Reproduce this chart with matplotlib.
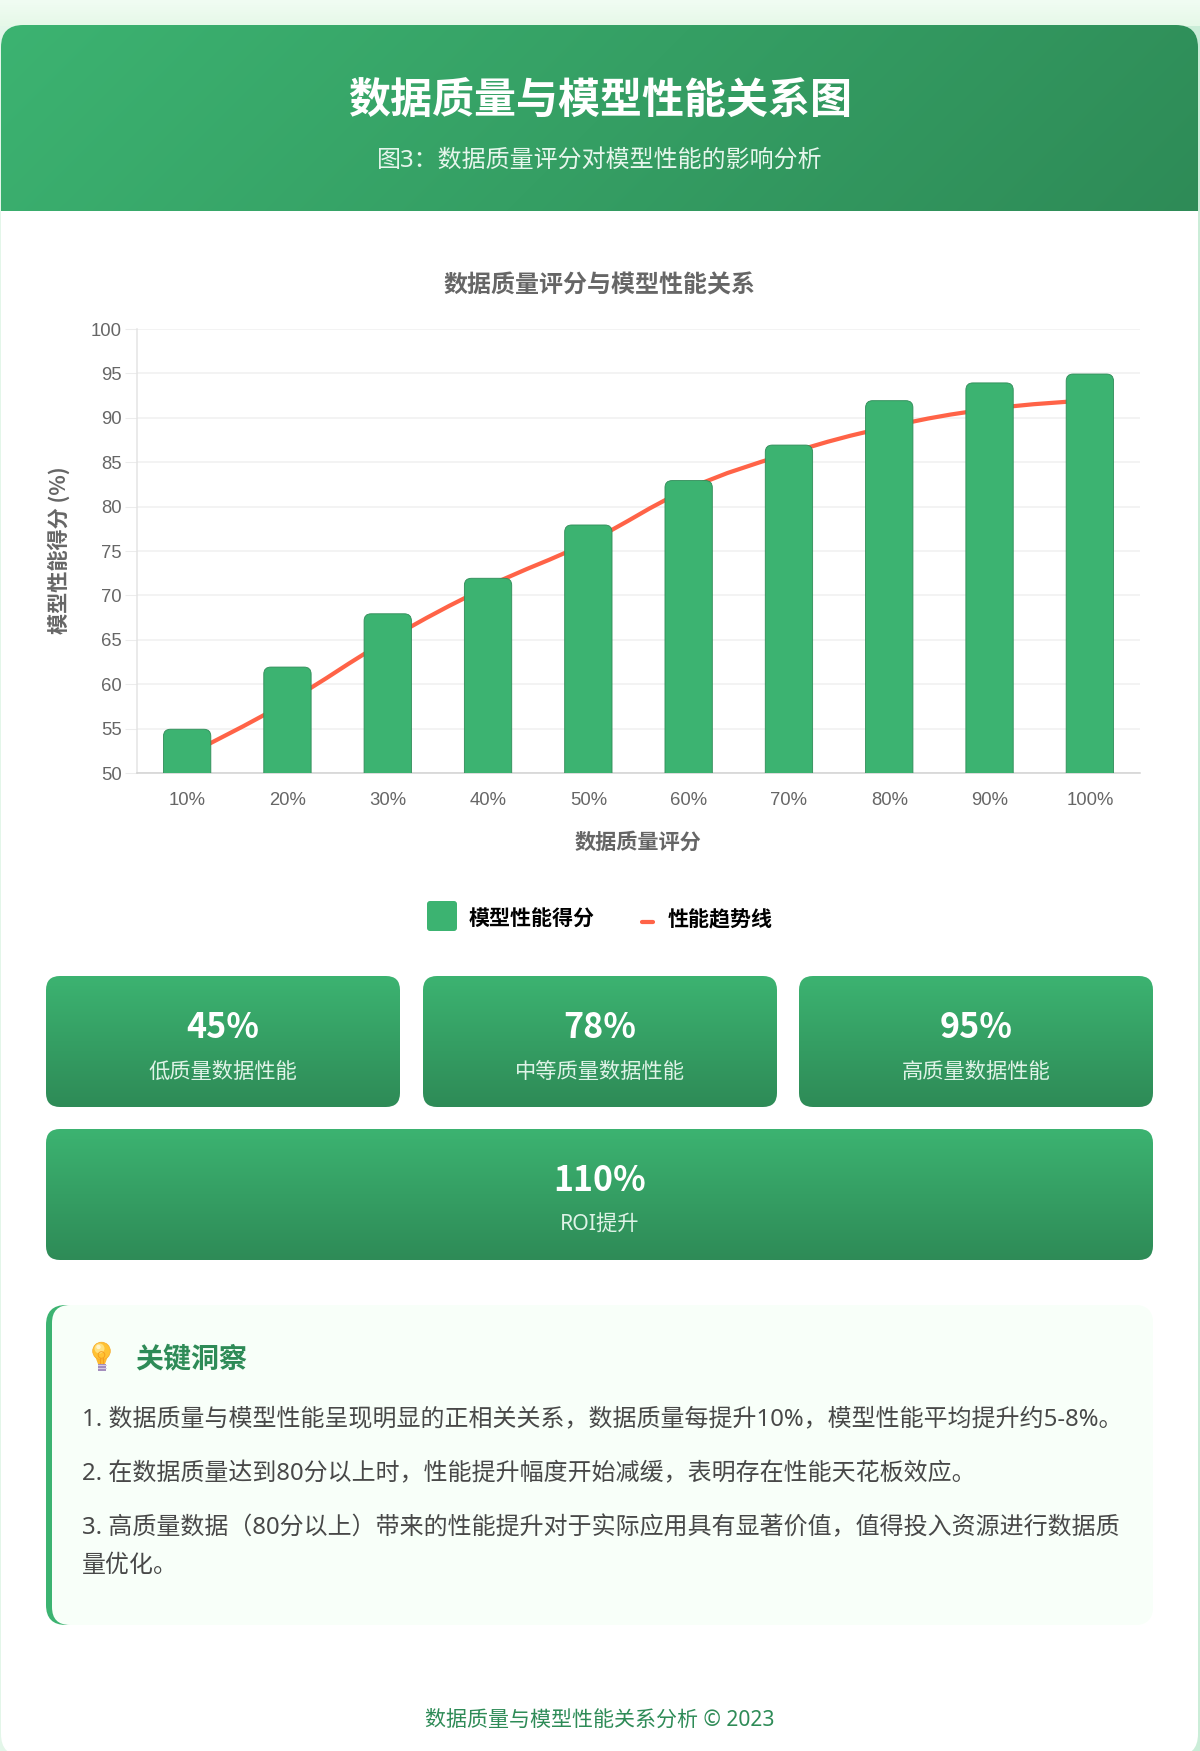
import numpy as np
import matplotlib
matplotlib.use("Agg")
import matplotlib.pyplot as plt
from matplotlib.patches import FancyBboxPatch, Rectangle, Circle, Polygon
from matplotlib.path import Path
from matplotlib.patches import PathPatch

plt.rcParams['font.family'] = ['Noto Sans', 'Noto Sans CJK SC', 'DejaVu Sans']

# data
quality_labels = ['10%', '20%', '30%', '40%', '50%', '60%', '70%', '80%', '90%', '100%']
model_scores = [55, 62, 68, 72, 78, 83, 87, 92, 94, 95]
trend_values = [52, 58, 65, 71, 76, 82, 86, 89, 91, 92]
y_ticks = [50, 55, 60, 65, 70, 75, 80, 85, 90, 95, 100]
stat_values = ['45%', '78%', '95%', '110%']
stat_labels = ['低质量数据性能', '中等质量数据性能', '高质量数据性能', 'ROI提升']
insights = [
    '1. 数据质量与模型性能呈现明显的正相关关系，数据质量每提升10%，模型性能平均提升约5-8%。',
    '2. 在数据质量达到80分以上时，性能提升幅度开始减缓，表明存在性能天花板效应。',
    '3. 高质量数据（80分以上）带来的性能提升对于实际应用具有显著价值，值得投入资源进行数据质',
    '量优化。',
]

W, H = 1200, 1751
GREEN = '#3cb371'
DARK = '#2e8b57'
ORANGE = '#ff6347'
CJK = ['Noto Sans', 'Noto Sans CJK SC', 'DejaVu Sans']
CJK_BOLD = ['Noto Sans CJK SC', 'DejaVu Sans']
ARIAL = ['Liberation Sans', 'Noto Sans CJK SC']


def px(size):
    return size * 0.72


def hexrgb(c):
    return np.array(matplotlib.colors.to_rgb(c))


def gradient(ax, x0, y0, x1, y1, c0, c1, angle=180, clip=None, z=1):
    # css style linear gradient, angle in degrees
    w, h = x1 - x0, y1 - y0
    a = np.deg2rad(angle)
    sx, sy = np.sin(a), -np.cos(a)
    L = abs(w * sx) + abs(h * sy)
    nx, ny = int(max(w, 2)), int(max(h, 2))
    xx, yy = np.meshgrid(np.linspace(-w / 2, w / 2, nx), np.linspace(-h / 2, h / 2, ny))
    t = np.clip((xx * sx + yy * sy) / L + 0.5, 0, 1)[..., None]
    img = hexrgb(c0) * (1 - t) + hexrgb(c1) * t
    im = ax.imshow(img, extent=(x0, x1, y1, y0), aspect='auto', zorder=z, interpolation='bilinear')
    if clip is not None:
        im.set_clip_path(clip)
    return im


def round_box(ax, x0, y0, x1, y1, r, **kw):
    p = FancyBboxPatch((x0, y0), x1 - x0, y1 - y0, boxstyle=f'round,pad=0,rounding_size={r}',
                       linewidth=0, **kw)
    ax.add_patch(p)
    return p


fig = plt.figure(figsize=(W / 100, H / 100), dpi=100)
bg = fig.add_axes([0, 0, 1, 1])
bg.set_xlim(0, W)
bg.set_ylim(H, 0)
bg.axis('off')

# page background and card
gradient(bg, 0, 25, W, H, '#e4f7ea', '#cbedd8', angle=90, z=0)
gradient(bg, 0, 0, W, 26, '#f1fdf3', '#e6f8e8', angle=180, z=0)
bg.set_xlim(0, W)
bg.set_ylim(H, 0)
card = round_box(bg, 1, 25, 1198, H + 5, 22, facecolor='white', zorder=1)

# header
head_clip = round_box(bg, 1, 25, 1198, 260, 22, facecolor='none', zorder=2)
im = gradient(bg, 1, 25, 1198, 211, GREEN, DARK, angle=135, z=2)
im.set_clip_path(head_clip)
bg.text(600, 101.5, '数据质量与模型性能关系图', color='white', fontsize=px(42), fontweight='bold',
        ha='center', va='center', family=CJK_BOLD, zorder=5)
bg.text(600, 160.5, '图3：数据质量评分对模型性能的影响分析', color='#e6f6ec', fontsize=px(24),
        ha='center', va='center', family=CJK, zorder=5)

# chart
ax_l, ax_r, ax_t, ax_b = 137, 1140, 329, 773
ax = fig.add_axes([ax_l / W, 1 - ax_b / H, (ax_r - ax_l) / W, (ax_b - ax_t) / H], zorder=3)
ax.set_xlim(-0.5, 9.5)
ax.set_ylim(50, 100)
ax.set_yticks(y_ticks)
ax.set_xticks(range(len(quality_labels)))
ax.set_xticklabels(quality_labels)
ax.tick_params(axis='y', length=8.5, width=0.75, color='#ececec', labelcolor='#666666',
               labelsize=px(18.5), pad=2.5)
ax.tick_params(axis='x', length=0, labelcolor='#666666', labelsize=px(18.5), pad=13.5)
for lab in ax.get_xticklabels() + ax.get_yticklabels():
    lab.set_family(ARIAL)
ax.grid(axis='y', color='#f0f0f0', linewidth=1.1)
ax.set_axisbelow(True)
for s in ['top', 'right']:
    ax.spines[s].set_visible(False)
ax.spines['left'].set_color('#e4e4e4')
ax.spines['left'].set_linewidth(1.1)
ax.spines['bottom'].set_color('#d2d2d2')
ax.spines['bottom'].set_linewidth(1.1)

# trend line, bezier like chart.js tension 0.4
xs = np.arange(len(trend_values), dtype=float)
ys = np.array(trend_values, dtype=float)
verts = [(xs[0], ys[0])]
codes = [Path.MOVETO]
for i in range(len(xs) - 1):
    prev_i, next_i = max(i - 1, 0), min(i + 2, len(xs) - 1)
    verts.append((xs[i] + (xs[i + 1] - xs[prev_i]) * 0.4 / 2, ys[i] + (ys[i + 1] - ys[prev_i]) * 0.4 / 2))
    verts.append((xs[i + 1] - (xs[next_i] - xs[i]) * 0.4 / 2, ys[i + 1] - (ys[next_i] - ys[i]) * 0.4 / 2))
    verts.append((xs[i + 1], ys[i + 1]))
    codes += [Path.CURVE4] * 3
ax.add_patch(PathPatch(Path(verts, codes), facecolor='none', edgecolor=ORANGE, linewidth=px(4.2),
                       zorder=3, capstyle='round'))

# bars, lower corners fall below the axis and get clipped
bar_w = 0.472
aspect = (50 / (ax_b - ax_t)) / (10 / (ax_r - ax_l))
for i, v in enumerate(model_scores):
    b = FancyBboxPatch((i - bar_w / 2, 48), bar_w, v - 48 - 0.07,
                       boxstyle='round,pad=0,rounding_size=0.07', mutation_aspect=aspect,
                       facecolor=GREEN, edgecolor=DARK, linewidth=0.6, zorder=4)
    ax.add_patch(b)

bg.text(600, 285.5, '数据质量评分与模型性能关系', color='#666666', fontsize=px(24), fontweight='bold',
        ha='center', va='center', family=CJK_BOLD, zorder=5)
bg.text(638, 842.5, '数据质量评分', color='#666666', fontsize=px(21.2), fontweight='bold',
        ha='center', va='center', family=CJK_BOLD, zorder=5)
bg.text(58.5, 550, '模型性能得分 (%)', color='#666666', fontsize=px(21.2), fontweight='bold',
        ha='center', va='center', rotation=90, family=CJK_BOLD, zorder=5)

# legend
round_box(bg, 427, 901, 457, 931, 3, facecolor=GREEN, zorder=5)
bg.text(469, 919.5, '模型性能得分', color='black', fontsize=px(21), fontweight='bold',
        ha='left', va='center', family=CJK_BOLD, zorder=5)
bg.plot([642, 653], [921.7, 921.7], color=ORANGE, lw=px(4.2), solid_capstyle='round', zorder=5)
bg.text(667.5, 919.5, '性能趋势线', color='black', fontsize=px(21), fontweight='bold',
        ha='left', va='center', family=CJK_BOLD, zorder=5)

# stat cards
boxes = [(46, 976, 400, 1107), (423, 976, 777, 1107), (799, 976, 1153, 1107), (46, 1129, 1153, 1260)]
for (x0, y0, x1, y1), val, lab in zip(boxes, stat_values, stat_labels):
    clip = round_box(bg, x0, y0, x1, y1, 14, facecolor='none', zorder=2)
    im = gradient(bg, x0, y0, x1, y1, GREEN, DARK, angle=180, z=2)
    im.set_clip_path(clip)
    mid = (x0 + x1) / 2
    bg.text(mid, y0 + 51, val, color='white', fontsize=px(34), fontweight='bold',
            ha='center', va='center', family=CJK_BOLD, zorder=5)
    bg.text(mid, y0 + 96, lab, color='#dff3e7', fontsize=px(21.3),
            ha='center', va='center', family=CJK, zorder=5)

# insight box
round_box(bg, 46, 1305, 1153, 1625, 20, facecolor='#f8fff9', zorder=2)
round_box(bg, 46, 1305, 100, 1625, 20, facecolor=GREEN, zorder=2)
round_box(bg, 52, 1305, 1153, 1625, 18, facecolor='#f8fff9', zorder=2)

# bulb icon
bg.add_patch(Polygon([(95, 1356), (108, 1356), (105, 1364), (98, 1364)], facecolor='#fdb92e', lw=0, zorder=5))
bg.add_patch(Circle((101.5, 1351), 8.8, facecolor='#ffc233', edgecolor='#f7a928', lw=0.5, zorder=5))
bg.add_patch(Circle((99.5, 1348.5), 5, facecolor='#ffe07f', lw=0, zorder=5))
bg.add_patch(Circle((98.5, 1347), 2.2, facecolor='#fff3c8', lw=0, zorder=5))
bg.add_patch(Circle((101.5, 1355), 3.3, facecolor='none', edgecolor='#f59e1f', lw=0.7, zorder=5))
bg.plot([100, 100], [1358, 1363.5], color='#f59e1f', lw=0.7, zorder=5)
bg.plot([103, 103], [1358, 1363.5], color='#f59e1f', lw=0.7, zorder=5)
bg.add_patch(Rectangle((98, 1363.5), 7.5, 7, facecolor='#a48fbe', lw=0, zorder=5))
for y in [1365, 1368]:
    bg.plot([98, 105.5], [y, y], color='#d8cde4', lw=0.7, zorder=5)

bg.text(135, 1360, '关键洞察', color=DARK, fontsize=px(28), fontweight='bold',
        ha='left', va='center', family=CJK_BOLD, zorder=5)
for y, line in zip([1420.5, 1474.5, 1528.5, 1565.5], insights):
    bg.text(82, y, line, color='#484848', fontsize=px(23.95), ha='left', va='center', family=CJK, zorder=5)

# footer
bg.text(600, 1720, '数据质量与模型性能关系分析 © 2023', color=DARK, fontsize=px(21),
        ha='center', va='center', family=CJK, zorder=5)

bg.set_xlim(0, W)
bg.set_ylim(H, 0)
fig.savefig('out.png', dpi=100)
